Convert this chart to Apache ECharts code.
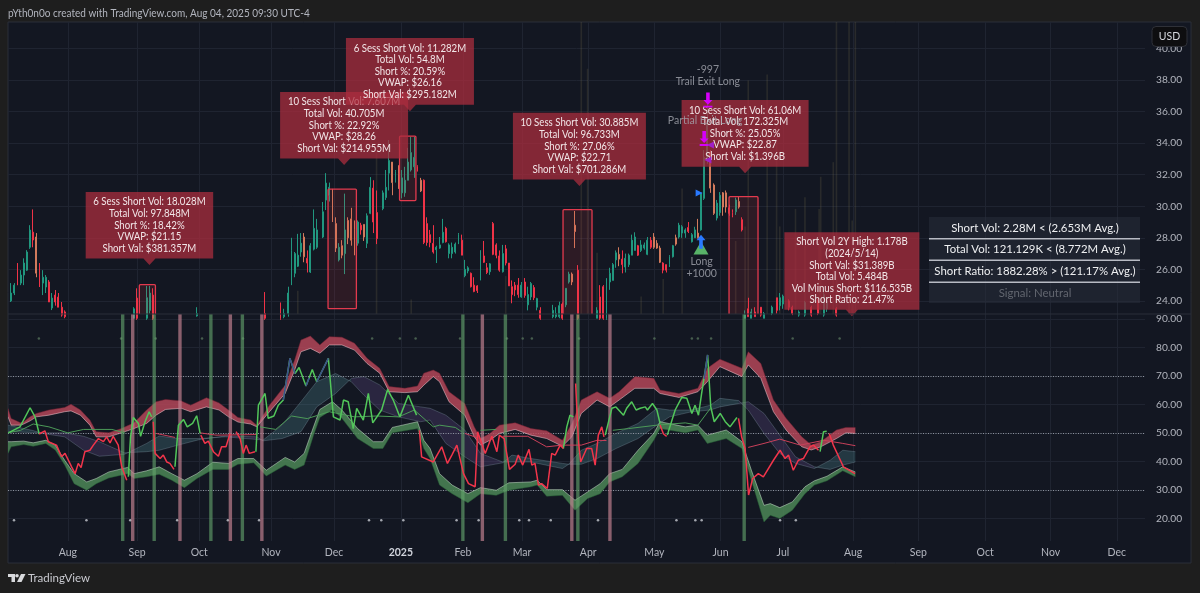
<!DOCTYPE html>
<html><head><meta charset="utf-8">
<style>html,body{margin:0;padding:0;background:#1e1e1e}#c{width:1200px;height:593px}</style>
<script src="https://cdn.jsdelivr.net/npm/echarts@6/dist/echarts.min.js"></script></head>
<body><div id="c"></div><script>
// session index, open, close, low, high
const candlesUp=[[1,24,24.5,23.93,25.13],[2,24.5,25,24.37,25.13],[4,25.13,25.64,25,25.95],[5,25.64,26.4,25,26.7],[6,25.95,27.1,25.9,27.22],[7,27.4,28.49,27.3,28.8],[11,25.13,25.5,24.37,25.95],[12,24.88,25.5,24.5,25.64],[14,23.55,24.18,23.42,24.5],
[40,22.9,23.5,22.9,23.6],[44,22.9,24.2,22.8,24.95],[45,23.4,24.5,23.2,24.95],[60,23.05,23.2,23,23.6],[87.5,23,23.2,22.9,23.5],
[89,23.2,24.5,23,24.9],[90,25.2,27.2,25,28],[91,25.75,27,25.5,27.1],[92,26.2,26.9,26.15,28.25],[93,27.1,27.66,26.8,28.3],[96,25.83,27.5,25.77,27.66],[97,27.28,28.6,27.2,29.8],[98,27.4,28.5,27.3,29.2],[100,28.05,29.65,27.98,30.27],[101,30.39,31.47,29.76,32.1],[102,30.7,31.2,30.3,31.5],[105,26.6,27.4,26.5,27.66],[107,27,28.5,25.7,30.8],[111,27.66,29,27.5,29.1],[114,27.65,29.4,27.35,29.55],[115,29.55,31.2,29.5,31.85],[119,29.85,30.85,29.75,31],[120,30.55,31.2,30.4,32.3],[121,32.1,32.9,31,34.2],[123,31.8,32.2,31.5,32.3],[125,30.85,31.8,30.5,32.3],[126,30.85,31.65,30.6,32.5],[127,31.65,32.8,31.65,33.7],[128,32.3,33.4,32.2,34.4],[129,32.5,33.1,31.8,34.4],
[136,27.25,27.4,26.4,27.5],[137,27.35,27.55,27.3,28.05],[138,27.7,28.35,27.65,29.2],[140,27,27.55,26.7,27.65],[141,27,27.4,26.7,27.7],[142,27.1,27.6,27,27.7],[143,27.75,28.2,27.6,28.3],[145,25.6,26,25.5,26.6],[146,25.9,26.1,25.75,26.2],[150,25.4,27.2,25.3,27.2],[153,25.85,26.35,25.65,26.4],[157,25.85,27,25.8,27.55],[163,24.25,25,24.2,25.2],[165,23.75,24.4,23.4,24.9],[166,24.25,25.1,24.05,25.2],[168,23.6,24.15,23.4,24.2],
[173,23,23.4,22.9,23.75],[174,23,23.2,22.9,23.6],[175,23,23.7,22.9,23.95],[177,23.75,24.8,23.6,24.8],[178,25.2,25.7,25.1,25.85],
[187,22.9,23.4,22.9,23.6],[190,22.9,25.4,22.8,25.45],[191,25.2,25.75,24.7,26.1],[192,25.3,26.3,25.3,26.4],[193,26.6,27.05,26.1,27.2],[196,26.15,26.7,25.8,27],[197,26.3,26.9,26.15,27],[198,26.9,27.85,26.9,28.2],[199,27.2,28.05,27.2,28.35],[201,27.2,27.55,27.1,27.85],[202,27.35,27.55,27.25,27.7],[203,26.95,27.85,26.9,28.05],[210,26.3,26.8,26.15,26.9],[211,26.8,27.5,26.75,27.55],[213,28.05,28.8,27.95,28.95],[214,28.3,28.7,28,28.8],[215,28.3,28.5,28,28.6],[217,27.75,28.2,27.7,28.3],[218,28,28.5,28,28.7],[220,28.5,30.85,28.45,30.85],[221,30.5,33.1,30.4,33.56],[222,32.9,35.3,32.7,36.7],[225,29.25,30.2,29.1,30.4],[226,29.6,30.7,29.4,30.9],[231,29.65,30.4,29.45,30.55],
[234,22.9,23.1,22.9,23.4],[236,22.9,23.3,22.9,23.5],[240,22.9,23.2,22.9,23.3],[242.5,23.2,23.6,23.1,23.7],[245,23.7,24.2,23.4,24.5],[246,23.8,24.3,23.5,24.4],[251,23.1,23.3,23,23.4],[253,23.1,23.9,23,24],[259,23.1,24.4,23,24.9],[260,23.5,24,23.3,24.1]];
const candlesDown=[[3,25.83,25,25,26.4],[8,28.36,27.86,27.4,29.8],[10,25.64,24.88,24.88,26.4],[13,25.2,23.93,23.93,25.32],[15,24.37,23.93,23.7,24.69],[16,24.24,23.6,23.6,24.5],[17,23.6,23.1,23,23.93],[18,23.3,23,22.9,23.4],
[41,24.18,22.9,22.8,24.8],[46,24.37,22.9,22.8,24.8],[81.5,23.2,22.9,22.8,24.56],[86.5,23.2,22.9,22.8,23.9],
[95,26.7,26.4,25.8,27.2],[112,28.8,28.5,28.2,28.95],[116,31.15,29,28.3,31.65],[117,29.6,27.95,27.6,31],[130,32.5,32.3,32.2,32.6],[132,31.65,27.7,27.6,31.7],[133,28.9,27.7,27.5,29.3],[134,28.2,27.7,27.4,28.5],[135,27.65,27.1,27,28.8],[139,28.6,27.75,27.7,28.7],[144,27.85,26.9,26.9,28.2],[147,25.75,24.9,24.85,25.8],[148,25,24.6,24.55,25.5],[149,24.95,24.65,24.5,25],[151,26.85,26.45,26.4,27.8],[152,26.1,25.8,25.7,26.4],[154,28.9,26.95,26.9,29],[155,27.55,26.9,26.7,27.65],[156,26.85,25.95,25.85,27.2],[158,27.3,26.4,26.25,27.55],[159,26.4,24.95,24.95,26.4],[160,24.9,24.4,23.85,25.3],[161,25,24.7,24.3,25.2],[162,25,24.4,24.2,25.45],[164,25.2,24.35,24.2,25.45],[167,24.85,24.2,24.05,25],[169,23.4,22.9,22.8,23.6],[176,23.8,22.9,22.8,23.9],[181,25.95,22.9,22.8,26.27],
[188,24.25,22.9,22.8,25],[189,24.9,22.9,22.8,25],[195,26.65,26.3,25.75,27.2],[200,27.5,26.9,26.85,27.55],[204,27.85,27.4,27.3,28.05],[208,26.4,25.95,25.75,26.45],[209,26.3,25.95,25.8,26.3],[216,28.65,28.4,28.3,29],[229,29.9,29.55,29.4,30.1],[230,29.6,29.4,29.3,29.8],[233,29.15,28.5,28.4,29.3],
[235,23.5,23,23,24.2],[237,23.3,23,23,23.6],[239,23.6,23.1,23,23.6],[244,24.2,23.4,23.2,24.2],[248,24,23.6,23.4,24.1],[249,23.6,23.2,23.1,23.7],[255,23.6,23.1,23,23.7],[257,24,23.2,23.1,24.1],[263,23.5,23.1,23,23.6]];
const candlesOrange=[[9,28.05,25.76,25.5,28.3],[94,28.05,26.8,26.45,28.3],[103,31.03,29,29,31.1],[104,28.9,27.35,27.1,29.3],[106,27.5,26.9,26.7,27.85],[108,29.1,28,27.6,29.3],[109,29.2,27.85,27.5,29.9],[110,28.5,26.9,26.9,29.1],[113,28.85,28.05,27.8,28.85],[122,32.8,31.5,30.7,32.8],[124,32.1,31.35,31.1,32.6],[131,31.65,30.97,30.9,31.8],[179,25.7,25.2,25,25.8],[180,28.8,28.4,27.35,29.7],[194,26.95,26.65,26.2,27.4],[205,28.05,27.4,27.3,28.3],[206,27.65,27.35,27.3,27.85],[207,27.35,26.45,26.4,27.5],[212,28,27.6,27.5,28.2],[219,28.3,28,27.95,29.2],[223,33.4,31.15,30.85,33.56],[224,31.35,29.55,29.45,31.45],[227,30.85,29.95,29.4,30.9],[228,30.85,29.95,29.6,31],[232,30.3,29.95,29.85,30.6]];
// faint volume columns: session, share of pane height
const volumes=[[92,8],[117,57],[128,5],[158,13],[182,100],[184,84],[187,21],[201,6],[208,12],[214,43],[231,25],[234,30],[235,80],[241,82],[244,66],[245,30],[250,36],[253,40],[257.5,36],[258,47],[262,52],[263,100],[267,100],[268,32],[269,100]];
// lower pane bands: session, top, bottom
const upperBand=[[0,58.66,55.74],[1,55.15,52.8],[4,53.6,52.8],[5,54,53.2],[7,55.7,54.3],[9,56.9,55.7],[13,58.1,56.3],[18,59,57.5],[20,60.1,57.8],[23,58.1,56.3],[26,54.6,52.8],[28,50.5,48.7],[32,50.1,48.7],[36,51.6,50.1],[40,53.6,51.6],[44,58.1,53.4],[47,61,56.3],[50,61.8,58.3],[55,61.3,58.7],[58,59.8,57.5],[63,62.4,59.2],[67,60.6,58.1],[70,58.1,55.7],[73,55.5,53.9],[77,54.6,53.2],[79,52.8,52.2],[83,59.8,57.5],[88,66.8,63.9],[91,75.6,72.1],[93,82.6,78.5],[96,84,79.7],[99,80.9,78],[102,83.8,80.9],[106,83.6,80.9],[110,81.5,79.1],[114,76.2,74.4],[118,72.7,71],[121,66.3,64.5],[126,65.7,64.2],[130,66.5,64.5],[132,71,66.8],[135,72.1,69.8],[137,71,68],[140,64.5,61],[145,60.4,56.3],[148,52.2,48.7],[150,48.1,45.8],[153,49.9,47.5],[156,52.8,49.9],[161,53.6,51.3],[166,51.6,49.3],[171,50.8,48.1],[176,47.5,45.4],[179,53.4,48.7],[182,61.6,56.9],[187,64.5,61.6],[191,62.2,59.2],[194,64.5,61.6],[199,69.8,65.7],[205,69.2,65.7],[207,65.1,63.9],[213,63.9,62.5],[219,65.7,64.5],[222,72.7,68],[226,75.9,73.3],[233,72.7,69.8],[235,78.5,73.9],[239,74.4,69.2],[243,61.6,57.5],[247,55.2,51.1],[252,48.7,45.2],[255,45.8,44.1],[258,47,45.2],[263,51.1,48.1],[266,52,50.1],[269,52,49.9]];
const lowerBand=[[0,47,42.9],[1,47,45.2],[5,47.2,46],[8,46.6,45.4],[12,47.5,46.4],[15,45.8,44.1],[18,40.5,38.8],[21,35.8,32.3],[25,32.9,30],[28,34.1,32.3],[32,36.4,34.3],[38,38,35.8],[40,35.8,34.1],[44,36.8,34.7],[48,38.2,35.6],[52,35.8,33.5],[56,33.5,30.9],[60,35.8,34.1],[65,39.8,37.3],[70,39.4,37.3],[73,41.1,39.1],[78,41.1,39.6],[82,37,35],[88,41.5,38.8],[91,39.9,37.3],[94,42.9,38.8],[97,52.2,49.3],[99,58.3,55.5],[103,61,58.3],[106,58.1,55.2],[111,51.6,48.1],[116,47,44.6],[119,47,44.6],[122,52,50.1],[130,54,51.6],[132,47.5,44.6],[134,44.6,41.1],[137,35.8,31.8],[141,31.8,28.8],[146,28.8,25.6],[150,30.9,28.8],[155,30,28.2],[159,32.6,30],[166,32.9,31.2],[168,33.5,31.8],[171,30.2,27.9],[176,30.2,28.2],[180,26.5,23],[184,29.4,27.1],[188,32.3,28.8],[191,35.8,32.9],[195,37.3,34.7],[200,44,39.4],[205,49.9,47.5],[207,54,51.6],[215,52.2,50.1],[219,52.8,51.1],[222,49.3,46.4],[228,51.1,48.1],[233,47,44.6],[236,37,33.5],[240,24.7,18.9],[242,25.3,21.2],[245,23.9,20.1],[249,25.9,23],[253,31.2,28.8],[256,33.3,31.8],[260,34.9,33.3],[265,38.2,36.8],[269,36.4,34.7]];
// cloud: session, fast, slow
const cloudRows=[[0,52.8,50.5],[8,50.9,50.2],[11,49.9,50.1],[18,48.7,50.1],[24,44,48.9],[29,41.9,47],[37,42.6,43.1],[44,46.4,43.5],[48,49,44],[54,48.1,45.8],[61,48.1,47.8],[69,48.7,49],[79,47.8,48.7],[81,47.6,47.3],[87,52.8,48.1],[93,61,50.5],[98,68,59.2],[104,70.9,63.9],[109,68,69.2],[113,63.3,69.8],[118,58.1,66.9],[124,55.7,60.4],[131,54,59.2],[134,54.6,58.7],[139,46.4,56.3],[145,41.7,51.1],[150,38.2,42.9],[157,39.6,39.9],[160,42.3,39.9],[166,41.1,39.9],[176,39.4,37.6],[178,39.1,39.1],[182,44,39.1],[187,46.4,41.1],[193,49.9,44.6],[200,53.4,48.1],[206,58.7,52.8],[210,58.1,55.7],[217,58.1,57.5],[223,59.8,58.1],[226,62.2,59.2],[232,61.4,60.4],[235,58.1,61],[240,49.9,56.9],[245,42.9,49.3],[250,39.4,41.7],[256,37.6,38.2],[261,40.5,37.3],[265,44,38.8],[269,43.5,39.9]];
const thinGreen=[[0,50.1],[4,51],[8,53.2],[13,52.2],[19,50.1],[24,51.3],[33,51.3],[37,50.1],[38,'-'],[80,52.2],[85,51.3],[90,56],[95,55.1],[102,57.5],[110,55.7],[117,56],[124,55.7],[129,58.1],[135,52.2],[137,52.8],[142,52],[144,50.5],[145,'-'],[150,51],[155,51.3],[156,'-'],[192,51],[197,51.6],[206,52.8],[215,53.6],[219,52.8],[223,58.7],[224,'-']];
const thinRed=[[47,49.9],[53,48.5],[54,'-'],[61,50.1],[66,49.3],[79,49.5],[80,'-'],[145,49.9],[149,48.4],[150,'-'],[157,48.9],[165,48.9],[171,45.2],[176,45.8],[182,45.8],[187,47.5],[190,47.4],[191,'-'],[235,45],[240,46.4],[245,47.9],[251.5,45.8],[259,47.5],[265,46.4],[269,45.6]];
const rsiGreen=[[0.1,50.1],[3.8,52.2],[7,58.9],[8.6,55.7],[9.9,49.7],[10,'-'],[38.2,34.7],[38.9,48.7],[39.8,55.5],[41.4,53.4],[42.1,48.9],[43.5,54],[44.8,57.5],[45.6,55.7],[46,'-'],[53,38.2],[54.1,52.8],[55.7,54.8],[56.9,52.2],[58.6,53.4],[59.9,56.1],[61,49.9],[61.1,'-'],[71.5,51.6],[71.6,'-'],[78.7,43.5],[79.5,59.8],[81.6,63.9],[82.6,55.2],[84.4,56],[85.8,59.8],[87.4,61.6],[89.5,76.2],[91.1,70.9],[92.4,73],[94.6,66.5],[96.6,72.3],[98,68],[101.7,76.2],[103.3,55.7],[105.4,54.6],[106.5,61.6],[108,61],[109.6,51.6],[110.7,58.7],[112.8,54.6],[114.4,63.9],[115.8,53.6],[118.6,58.1],[120.5,65.3],[122.3,61.6],[124.4,55.7],[127.1,63.3],[129.7,56.3],[130,'-'],[176.3,44.6],[177.4,52.2],[178.4,56.3],[179.5,55.7],[180,'-'],[189.6,49.3],[191.7,58.7],[193,59.2],[195.4,56.3],[196.4,58.7],[198,61],[199.4,58.1],[200.7,58.7],[202.3,59.2],[203,58.1],[204.6,60.4],[206,58.1],[207,53.4],[207.1,'-'],[209.3,49.3],[211.8,58.1],[213.9,62.5],[215.5,62.2],[217.1,56.9],[218.1,59.8],[219.2,56.3],[220.2,63.9],[222.1,77.4],[223.1,59.2],[224.2,54],[226.1,56.9],[227.7,54],[229.2,52.2],[231.4,55.5],[231.5,'-'],[257.8,43.5],[258.9,50.5],[259.9,50.7],[260,'-']];
const rsiRed=[[9.9,49.7],[11.7,50.8],[12.8,47],[15.4,45.8],[17,41.7],[18.1,42.9],[20.2,38.2],[21.3,35.8],[22.3,39.4],[23.2,37.9],[24.4,43.5],[26,44],[27.1,45.8],[28.7,48.1],[30.3,47],[31.3,48.7],[32.4,46.6],[33.4,48.9],[35,45.8],[36.1,38.2],[37.7,33.5],[38,'-'],[46.1,54],[46.7,42.9],[48.3,41.1],[49.3,42.3],[50.4,39.9],[51.4,39.4],[52.7,37.3],[53,'-'],[61.2,49.3],[62.5,46.4],[63.6,47.2],[65.2,43.5],[66.8,41.9],[67.8,45.2],[69.2,45.2],[70.5,49.9],[71,'-'],[72.4,50.5],[73.7,48.1],[74.7,42.9],[75.6,45.8],[76.6,42.9],[78.4,43.5],[78.6,'-'],[130.6,51],[131.3,41.7],[135,39.9],[137.7,45.2],[139.5,39.4],[140.9,42.3],[142.5,45.8],[144.6,35.8],[146.2,32.3],[148.3,31.2],[149.1,50.5],[151.5,42.9],[153.6,48.9],[155.2,43.5],[156,49.3],[157.5,48.1],[159.2,37.3],[161,39.1],[162,42.3],[163.4,38.8],[165.4,44.3],[166.3,38.8],[167.3,39.4],[168.4,31.8],[169.4,32.3],[171.2,30.6],[172.6,42.9],[173.7,42.3],[175.3,45.8],[176.3,44.6],[176.4,'-'],[180.2,67.4],[181.1,47],[181.8,39.9],[183.7,44.6],[185.3,44.6],[186.4,38.8],[187.4,49.3],[188.5,52.2],[189.2,48.7],[189.4,'-'],[207,52.8],[208.1,49.7],[209.1,48.9],[209.2,'-'],[231.9,55.2],[232.9,48.7],[234,44.6],[235.1,28.3],[236.4,34.1],[238.2,35.8],[239.8,34.7],[243,40.5],[245.1,44],[246.7,41.1],[247.8,42.3],[249.3,37],[250.9,40.5],[252.5,41.1],[254.6,45.2],[255.7,45.8],[257.3,44],[257.7,'-'],[260.7,49.9],[262,45.8],[265.2,38.2],[268.9,35.8]];
const rsiBlue=[[87.4,61.6],[89.5,76.2],[91.1,70.9],[91.2,'-'],[94.6,66.5],[95.6,69.4],[95.7,'-'],[98,68],[101.7,76.2],[101.8,'-'],[221,69],[222.1,77.4],[222.2,'-']];
const greenStrips=[37,47,65,75,145,158.5,181.5,234.3];
const pinkStrips=[39,54,70,80,150,178.4,190.5];
const dotsTop=[9.8,35.9,46.9,61.6,74.6,115.6,124.4,129.4,143.5,158.4,163.4,166.3,181.3,205.2,217.1,219,223.2,249.1,264];
const dotsBottom=[1.9,24.9,38.8,53.7,69.8,79.7,114.6,118.5,125.5,142.4,149.4,162.3,165.4,172.3,187.3,212.2,218.2,220.2,245.1,250.1];
// outlined boxes: first session, last session, top price, bottom price
const shortBoxes=[[41.7,46.8,25.03,22],[101.6,110.6,31.09,23.51],[124.3,129.5,34.45,30.36],[176.2,185.4,29.79,22],[228.9,238.1,30.61,22]];
const monthSessions=[19,41,60.7,83.5,103.5,124.7,144.4,163.2,184.2,205.2,226.2,246,268.3,289,310.2,331,352];
const monthLabels=['Aug','Sep','Oct','Nov','Dec','2025','Feb','Mar','Apr','May','Jun','Jul','Aug','Sep','Oct','Nov','Dec'];
const priceTicks=[24,26,28,30,32,34,36,38,40];
const oscTicks=[20,30,40,50,60,70,80,90];
const calloutTips=[[106.7,32.61],[127.6,36.03],[44.9,26.27],[181.4,31.28],[234,32.1],[267.9,23.03]];
const calloutTexts=[
 '10 Sess Short Vol: 7.607M\nTotal Vol: 40.705M\nShort %: 22.92%\nVWAP: $28.26\nShort Val: $214.955M',
 '6 Sess Short Vol: 11.282M\nTotal Vol: 54.8M\nShort %: 20.59%\nVWAP: $26.16\nShort Val: $295.182M',
 '6 Sess Short Vol: 18.028M\nTotal Vol: 97.848M\nShort %: 18.42%\nVWAP: $21.15\nShort Val: $381.357M',
 '10 Sess Short Vol: 30.885M\nTotal Vol: 96.733M\nShort %: 27.06%\nVWAP: $22.71\nShort Val: $701.286M',
 '10 Sess Short Vol: 61.06M\nTotal Vol: 172.325M\nShort %: 25.05%\nVWAP: $22.87\nShort Val: $1.396B',
 'Short Vol 2Y High: 1.178B\n(2024/5/14)\nShort Val: $31.389B\nTotal Vol: 5.484B\nVol Minus Short: $116.535B\nShort Ratio: 21.47%'];
const tableRows=['Short Vol: 2.28M < (2.653M Avg.)','Total Vol: 121.129K < (8.772M Avg.)','Short Ratio: 1882.28% > (121.17% Avg.)','Signal: Neutral'];
const tradeLabels=[[222.2,38.67,'-997'],[222.2,37.87,'Trail Exit Long'],[221.3,35.4,'Partial Exit Long'],[220.2,26.46,'Long'],[220.2,25.76,'+1000']];
const exitArrows=[[222.2,36.73],[221,34.3]];
const entryMark=[[220,27.35]];
const entryArrow=[[220,27.75]];
const blueFlag=[[219.4,30.84]];
const exitSmall=[[223,33.88],[222.2,32.93]];

const FONT='Lato';
const TXT='#b2b5be';
const lastSession=1137/3.15;
const chart=echarts.init(document.getElementById('c'));

function candle(name,rows,up,down){return {name,type:'candlestick',xAxisIndex:0,yAxisIndex:0,data:rows,encode:{x:0,y:[1,2,3,4]},barWidth:1.4,clip:true,z:4,silent:true,
  itemStyle:{color:up,color0:down,borderColor:up,borderColor0:down,borderWidth:1}};}
function bandSeries(rows,fill,topEdge,botEdge){return {type:'custom',xAxisIndex:1,yAxisIndex:2,data:rows,encode:{x:0,y:[1,2]},clip:true,silent:true,z:5,
  renderItem(p,api){ if(p.dataIndex!==0) return null;
    const t=rows.map(r=>api.coord([r[0],r[1]])), b=rows.map(r=>api.coord([r[0],r[2]]));
    return {type:'group',children:[
      {type:'polygon',shape:{points:t.concat(b.slice().reverse())},style:{fill}},
      {type:'polyline',shape:{points:t},style:{fill:'none',stroke:topEdge,lineWidth:0.8}},
      {type:'polyline',shape:{points:b},style:{fill:'none',stroke:botEdge,lineWidth:0.8}}]};}};}
function cloudSeries(rows){return {type:'custom',xAxisIndex:1,yAxisIndex:2,data:rows,encode:{x:0,y:[1,2]},clip:true,silent:true,z:3,
  renderItem(p,api){ if(p.dataIndex!==0) return null;
    const kids=[];let run=[rows[0]];
    const flush=(bull)=>{const a=run.map(r=>api.coord([r[0],r[1]])),b=run.map(r=>api.coord([r[0],r[2]]));
      kids.push({type:'polygon',shape:{points:a.concat(b.slice().reverse())},style:{fill:bull?'rgba(86,150,160,.26)':'rgba(110,80,150,.26)'}});};
    for(let k=1;k<rows.length;k++){const bull=rows[k-1][1]+rows[k][1]>rows[k-1][2]+rows[k][2];
      const prevBull=k>1?rows[k-2][1]+rows[k-1][1]>rows[k-2][2]+rows[k-1][2]:bull;
      if(bull!==prevBull){flush(prevBull);run=[rows[k-1]];}
      run.push(rows[k]);}
    flush(rows[rows.length-2][1]+rows[rows.length-1][1]>rows[rows.length-2][2]+rows[rows.length-1][2]);
    const f=rows.map(r=>api.coord([r[0],r[1]])),s=rows.map(r=>api.coord([r[0],r[2]]));
    kids.push({type:'polyline',shape:{points:f},style:{fill:'none',stroke:'rgba(150,175,190,.28)',lineWidth:1}});
    kids.push({type:'polyline',shape:{points:s},style:{fill:'none',stroke:'rgba(150,175,190,.28)',lineWidth:1}});
    return {type:'group',children:kids};}};}
function lineS(rows,color,w,z){return {type:'line',xAxisIndex:1,yAxisIndex:2,data:rows,showSymbol:false,smooth:false,connectNulls:false,silent:true,z,lineStyle:{color,width:w},itemStyle:{color}};}
function strips(list,color){return {type:'bar',xAxisIndex:1,yAxisIndex:2,data:list.map(i=>[i,91.75]),barWidth:3.4,silent:true,z:6,itemStyle:{color}};}
function dots(list,yv,color,size){return {type:'scatter',xAxisIndex:1,yAxisIndex:2,data:list.map(i=>[i,yv]),symbolSize:size,silent:true,z:2,itemStyle:{color}};}
function marks(rows,symbol,size,color,rotate){return {type:'scatter',xAxisIndex:0,yAxisIndex:0,data:rows,symbol,symbolSize:size,symbolRotate:rotate||0,clip:false,silent:true,z:12,itemStyle:{color,opacity:1}};}
const boxW=[128,128,127.5,133,127,135], boxH=[66.6,66.6,66.6,66.8,66.6,77.5];

const series=[
 {type:'bar',xAxisIndex:0,yAxisIndex:1,data:volumes,barWidth:1.6,silent:true,z:2,itemStyle:{color:'rgba(130,122,80,.20)'}},
 candle('up',candlesUp,'#21977f','#21977f'),
 candle('down',candlesDown,'#ef3347','#ef3347'),
 candle('orange',candlesOrange,'#d27a5c','#d27a5c'),
 {type:'custom',xAxisIndex:0,yAxisIndex:0,data:shortBoxes,encode:{x:[0,1],y:[2,3]},clip:true,silent:true,z:6,
  renderItem(p,api){const a=api.coord([api.value(0),api.value(2)]),b=api.coord([api.value(1),api.value(3)]);
    return {type:'rect',shape:{x:a[0],y:a[1],width:b[0]-a[0],height:b[1]-a[1],r:1},style:{fill:'rgba(242,54,69,.12)',stroke:'#e23a4e',lineWidth:1.3}};}},
 {type:'custom',xAxisIndex:0,yAxisIndex:0,data:calloutTips,encode:{x:0,y:1},clip:false,silent:true,z:8,
  renderItem(p,api){const k=p.dataIndex,c=api.coord([api.value(0),api.value(1)]),w=boxW[k],h=boxH[k],tip=6.5;
    const l=c[0]-w/2,bot=c[1]-tip,top=bot-h;
    return {type:'group',children:[
      {type:'polygon',shape:{points:[[l,top],[l+w,top],[l+w,bot],[c[0]+6,bot],[c[0],c[1]],[c[0]-6,bot],[l,bot]]},style:{fill:'rgba(172,44,62,.74)'}},
      {type:'text',x:c[0],y:top+h/2,scaleX:0.92,style:{text:calloutTexts[k],fill:'#f2e6e8',font:'10.5px '+FONT,align:'center',verticalAlign:'middle',lineHeight:11.6}}]};}},
 bandSeries(upperBand,'rgba(186,72,90,.82)','rgba(120,32,50,.6)','rgba(255,220,226,.6)'),
 bandSeries(lowerBand,'rgba(78,138,88,.82)','rgba(220,240,222,.6)','rgba(36,100,52,.6)'),
 cloudSeries(cloudRows),
 lineS(thinGreen,'#4c9a58',1,6),
 lineS(thinRed,'#c9405a',1,6),
 lineS(rsiGreen,'#52c65a',1.5,7),
 lineS(rsiRed,'#f2354b',1.5,7),
 lineS(rsiBlue,'#3d4f8c',1.5,8),
 strips(greenStrips,'rgba(100,165,108,.62)'),
 strips(pinkStrips,'rgba(195,130,145,.68)'),
 dots(dotsTop,83.2,'#55705a',2.5),
 dots(dotsBottom,19.5,'#c9ccd3',2.5),
 {type:'line',xAxisIndex:1,yAxisIndex:2,data:[],silent:true,z:5,
  markLine:{silent:true,symbol:'none',animation:false,label:{show:false},lineStyle:{color:'#8d929d',type:[1,1.5],width:1},data:[{yAxis:70},{yAxis:50},{yAxis:30}]}},
 marks(entryMark,'triangle',[15,13],'#58b368'),
 marks(entryArrow,'path://M5 0 L10 5 L7 5 L7 13 L3 13 L3 5 L0 5 Z',[9,14],'#2979ff'),
 marks(blueFlag,'triangle',[7,7],'#2979ff',-90),
 marks(exitArrows,'path://M3 0 L7 0 L7 8 L10 8 L5 13 L0 8 L3 8 Z M0 14 L10 14 L10 16 L0 16 Z',[9,15],'#d500f9'),
 marks(exitSmall,'triangle',[7,7],'#a020c8',90),
 {type:'scatter',xAxisIndex:0,yAxisIndex:0,data:tradeLabels,symbolSize:0,clip:false,silent:true,z:13,
  label:{show:true,position:'inside',formatter:p=>p.value[2],color:'#a6a9b2',fontFamily:FONT,fontSize:10.5}}
];

const faint='#1f2431';
chart.setOption({
 animation:false,backgroundColor:'#1e1e1e',
 textStyle:{fontFamily:FONT},
 graphic:{elements:[
  {type:'rect',z:-10,silent:true,shape:{x:8,y:22,width:1183,height:541},style:{fill:'#131722',stroke:'#2a2e39',lineWidth:1}},
  {type:'rect',z:100,silent:true,shape:{x:8,y:313.5,width:1183,height:1},style:{fill:'#2a2e39'}},
  {type:'text',z:100,silent:true,x:8,y:13,scaleX:0.91,style:{text:'pYth0n0o created with TradingView.com, Aug 04, 2025 09:30 UTC-4',fill:TXT,font:'11px '+FONT,verticalAlign:'middle'}},
  {type:'rect',z:100,silent:true,shape:{x:1152,y:26.5,width:35,height:20,r:4},style:{fill:'#0e0e10',stroke:'#2f3138',lineWidth:1}},
  {type:'text',z:101,silent:true,x:1169.5,y:36.5,style:{text:'USD',fill:'#d6d8de',font:'10.5px '+FONT,align:'center',verticalAlign:'middle'}},
  {type:'rect',z:90,silent:true,shape:{x:929,y:217,width:211,height:86},style:{fill:'rgba(40,45,58,.55)'}},
  ...[238.7,260.3,282.3].map(y=>({type:'rect',z:91,silent:true,shape:{x:929,y:y-.7,width:211,height:1.4},style:{fill:'#b8bbc4'}})),
  ...tableRows.map((t,k)=>({type:'text',z:92,silent:true,x:1035,y:[228,249.5,271,293][k],style:{text:t,fill:k===3?'#62666f':'#eeeff1',font:'11.4px '+FONT,align:'center',verticalAlign:'middle'}})),
  {type:'polygon',z:100,silent:true,shape:{points:[[8,574],[15,574],[15,582],[11.5,582],[11.5,577],[8,577]]},style:{fill:'#d8d9dc'}},
  {type:'circle',z:100,silent:true,shape:{cx:17,cy:575.8,r:1.8},style:{fill:'#d8d9dc'}},
  {type:'polygon',z:100,silent:true,shape:{points:[[21,574],[25.5,574],[21.5,582],[17,582]]},style:{fill:'#d8d9dc'}},
  {type:'text',z:100,silent:true,x:28,y:578.5,style:{text:'TradingView',fill:'#c9cad0',font:'11.5px '+FONT,verticalAlign:'middle'}}
 ]},
 grid:[{left:8,width:1137,top:22,height:292},{left:8,width:1137,top:314,height:227}],
 xAxis:[
  {type:'value',gridIndex:0,min:0,max:lastSession,axisLine:{show:false},axisTick:{show:false,customValues:monthSessions},axisLabel:{show:false,customValues:monthSessions},splitLine:{show:true,lineStyle:{color:faint,width:1}}},
  {type:'value',gridIndex:1,min:0,max:lastSession,axisLine:{show:false},axisTick:{show:false,customValues:monthSessions},
   axisLabel:{customValues:monthSessions,margin:6,color:TXT,fontFamily:FONT,fontSize:10.5,hideOverlap:false,showMinLabel:true,showMaxLabel:true,
     formatter:v=>{const k=monthSessions.indexOf(v),s=monthLabels[k];return s==='2025'?'{b|'+s+'}':s;},rich:{b:{fontWeight:'bold',color:'#d1d4dc',fontFamily:FONT,fontSize:10.5}}},
   splitLine:{show:true,lineStyle:{color:faint,width:1}}}],
 yAxis:[
  {type:'value',gridIndex:0,position:'right',min:23.17,max:41.68,axisLine:{show:false},axisTick:{show:false,customValues:priceTicks},
   axisLabel:{customValues:priceTicks,margin:11,color:TXT,fontFamily:FONT,fontSize:10.2,formatter:v=>v.toFixed(2)},splitLine:{show:true,lineStyle:{color:faint,width:1}}},
  {type:'value',gridIndex:0,min:0,max:100,show:false,splitLine:{show:false}},
  {type:'value',gridIndex:1,position:'right',min:12.2,max:91.75,axisLine:{show:false},axisTick:{show:false,customValues:oscTicks},
   axisLabel:{customValues:oscTicks,margin:11,color:TXT,fontFamily:FONT,fontSize:10.2,formatter:v=>v.toFixed(2)},splitLine:{show:true,lineStyle:{color:faint,width:1}}}],
 series
});
</script></body></html>
